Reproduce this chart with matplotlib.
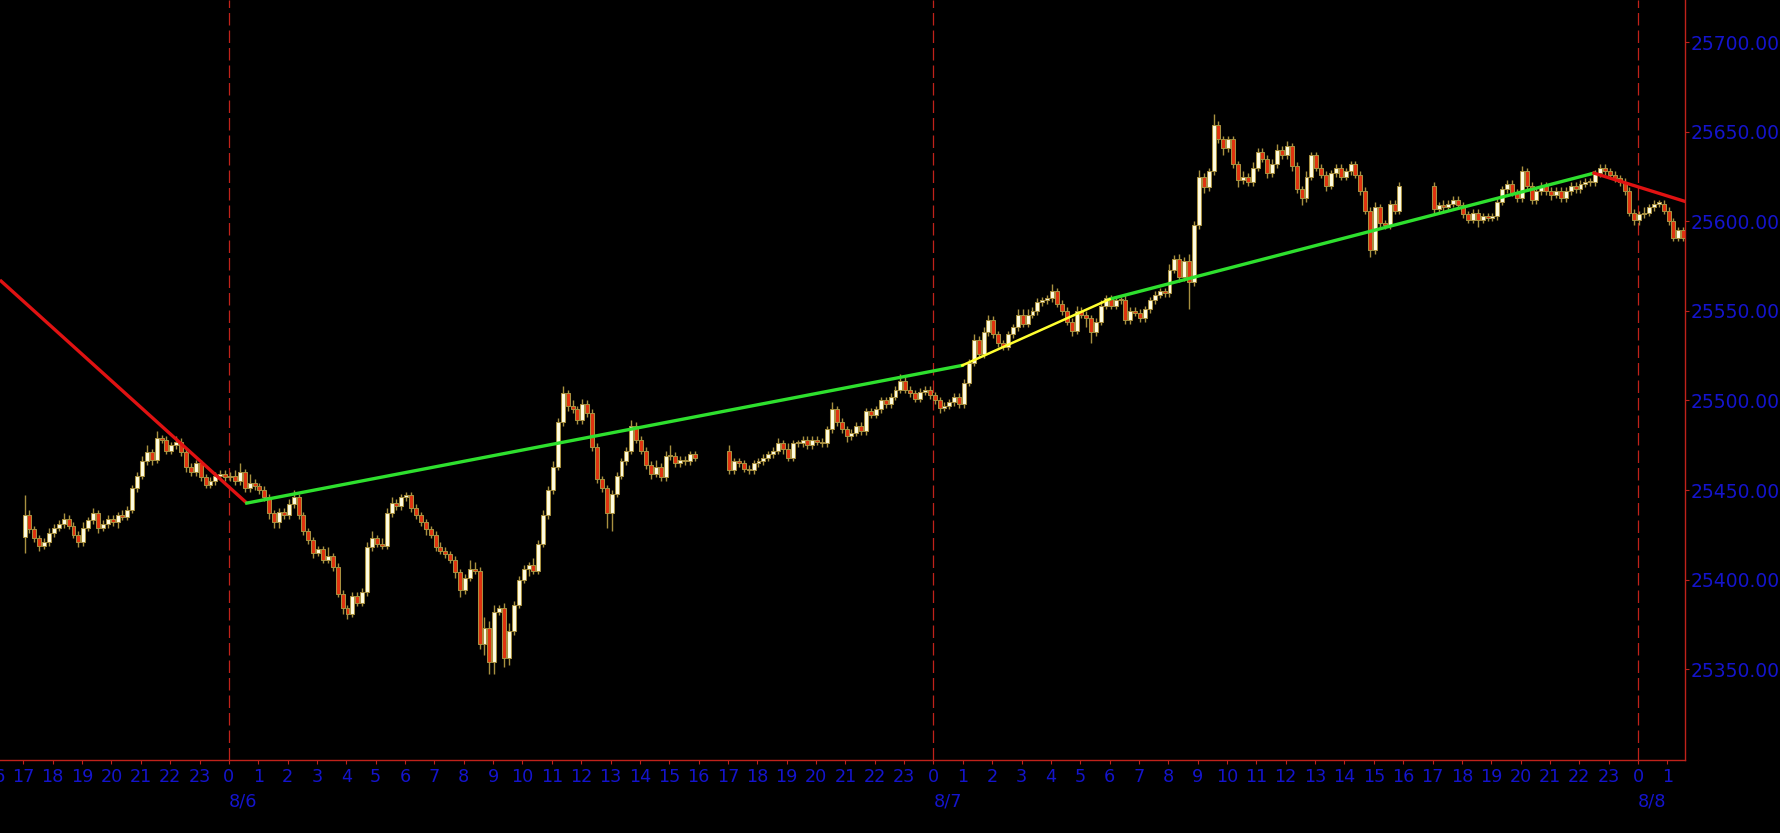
import matplotlib
matplotlib.use("Agg")
import matplotlib.pyplot as plt
import matplotlib.transforms as mtransforms
import numpy as np

BG = "black"
AXIS_RED = "#c0221a"
LABEL_BLUE = "#1414cc"
UP_FILL = "#fffde2"
DOWN_FILL = "#e0320f"
EDGE = "#a89040"

# time axis = hours counted from 8/6 00:00, one candle per 10 minutes
SESSION_START = [-7, 17, 41]          # 17:00 on 8/5, 8/6, 8/7
SESSION_OPEN = [25424, 25472, 25620]

# 8/5 17:00 -> 8/6 15:50
CLOSE_S1 = [
    25436, 25428, 25423, 25419, 25421, 25426,   # 17
    25429, 25431, 25434, 25430, 25425, 25421,   # 18
    25429, 25433, 25437, 25429, 25431, 25434,   # 19
    25432, 25436, 25435, 25439, 25451, 25458,   # 20
    25466, 25471, 25467, 25479, 25478, 25472,   # 21
    25475, 25477, 25471, 25463, 25460, 25465,   # 22
    25457, 25453, 25455, 25458, 25459, 25457,   # 23
    25458, 25455, 25460, 25451, 25454, 25452,   # 0
    25450, 25446, 25437, 25432, 25438, 25436,   # 1
    25442, 25446, 25436, 25427, 25422, 25415,   # 2
    25417, 25411, 25413, 25407, 25392, 25384,   # 3
    25381, 25391, 25387, 25393, 25418, 25423,   # 4
    25420, 25419, 25437, 25443, 25441, 25446,   # 5
    25447, 25440, 25436, 25432, 25428, 25425,   # 6
    25418, 25416, 25414, 25411, 25404, 25394,   # 7
    25401, 25406, 25405, 25364, 25373, 25354,   # 8
    25382, 25384, 25356, 25371, 25386, 25400,   # 9
    25406, 25408, 25405, 25420, 25436, 25450,   # 10
    25463, 25488, 25504, 25497, 25495, 25489,   # 11
    25498, 25493, 25474, 25456, 25451, 25437,   # 12
    25448, 25458, 25466, 25472, 25486, 25478,   # 13
    25472, 25464, 25459, 25463, 25457, 25469,   # 14
    25469, 25465, 25467, 25466, 25470, 25468,   # 15
]
WICK_HI_S1 = [
    11, 3, 2, 2, 2, 3,
    2, 2, 3, 2, 2, 2,
    3, 2, 3, 2, 2, 2,
    2, 2, 3, 2, 2, 2,
    3, 4, 2, 4, 2, 2,
    2, 3, 2, 2, 2, 2,
    2, 2, 2, 2, 2, 2,
    2, 3, 5, 2, 5, 2,
    2, 2, 2, 2, 2, 2,
    3, 4, 2, 2, 2, 2,
    2, 2, 5, 2, 2, 2,
    2, 2, 2, 2, 3, 4,
    2, 3, 3, 3, 2, 2,
    2, 2, 2, 2, 2, 2,
    2, 3, 2, 2, 2, 2,
    2, 5, 4, 2, 6, 4,
    4, 2, 3, 5, 2, 2,
    2, 2, 4, 2, 3, 2,
    3, 2, 4, 2, 3, 2,
    3, 2, 2, 2, 2, 2,
    2, 2, 2, 2, 3, 2,
    2, 2, 2, 4, 2, 3,
    6, 2, 2, 2, 2, 2,
]
WICK_LO_S1 = [
    9, 2, 2, 3, 2, 2,
    2, 2, 2, 2, 2, 3,
    2, 2, 2, 3, 2, 2,
    2, 3, 2, 2, 2, 2,
    2, 2, 3, 2, 2, 2,
    2, 2, 2, 3, 2, 2,
    2, 2, 2, 2, 2, 2,
    2, 2, 2, 2, 2, 2,
    2, 2, 3, 3, 3, 2,
    2, 2, 2, 2, 2, 3,
    2, 2, 2, 2, 2, 3,
    3, 2, 2, 2, 2, 2,
    2, 2, 2, 2, 2, 2,
    2, 2, 2, 2, 3, 2,
    2, 2, 2, 2, 3, 4,
    2, 2, 2, 3, 6, 7,
    7, 2, 5, 4, 2, 2,
    2, 4, 2, 2, 2, 2,
    2, 2, 2, 3, 2, 2,
    2, 2, 2, 2, 2, 8,
    10, 2, 2, 2, 2, 2,
    2, 2, 3, 2, 2, 2,
    2, 2, 2, 2, 2, 2,
]

# 8/6 17:00 -> 8/7 15:50
CLOSE_S2 = [
    25461, 25466, 25465, 25462, 25461, 25465,   # 17
    25466, 25468, 25470, 25472, 25476, 25473,   # 18
    25468, 25476, 25476, 25478, 25475, 25478,   # 19
    25477, 25476, 25484, 25495, 25488, 25484,   # 20
    25480, 25482, 25486, 25483, 25494, 25492,   # 21
    25495, 25500, 25498, 25502, 25506, 25511,   # 22
    25506, 25504, 25501, 25505, 25506, 25503,   # 23
    25500, 25496, 25497, 25499, 25502, 25498,   # 0
    25510, 25521, 25534, 25526, 25538, 25545,   # 1
    25537, 25532, 25530, 25537, 25541, 25548,   # 2
    25543, 25548, 25550, 25555, 25556, 25557,   # 3
    25561, 25554, 25550, 25544, 25539, 25550,   # 4
    25548, 25546, 25538, 25544, 25553, 25557,   # 5
    25553, 25556, 25556, 25545, 25550, 25549,   # 6
    25546, 25551, 25556, 25559, 25561, 25560,   # 7
    25573, 25579, 25569, 25578, 25566, 25598,   # 8
    25625, 25619, 25628, 25654, 25646, 25641,   # 9
    25646, 25632, 25623, 25625, 25622, 25630,   # 10
    25639, 25635, 25627, 25632, 25640, 25637,   # 11
    25642, 25631, 25618, 25613, 25625, 25637,   # 12
    25630, 25626, 25620, 25627, 25630, 25625,   # 13
    25628, 25632, 25626, 25617, 25606, 25584,   # 14
    25608, 25599, 25598, 25610, 25606, 25620,   # 15
]
WICK_HI_S2 = [
    3, 2, 2, 2, 2, 2,
    2, 2, 2, 2, 3, 2,
    3, 2, 2, 2, 2, 2,
    2, 2, 2, 4, 2, 2,
    2, 2, 2, 2, 2, 2,
    2, 2, 2, 2, 2, 4,
    2, 2, 2, 2, 2, 2,
    2, 2, 2, 2, 2, 2,
    2, 2, 3, 2, 3, 3,
    2, 2, 2, 2, 2, 3,
    3, 3, 2, 2, 2, 2,
    4, 2, 2, 2, 2, 3,
    2, 2, 2, 2, 3, 2,
    2, 2, 2, 3, 2, 2,
    2, 2, 2, 2, 2, 2,
    3, 2, 3, 2, 4, 2,
    4, 2, 2, 6, 2, 2,
    2, 2, 2, 3, 2, 3,
    2, 2, 2, 3, 3, 2,
    3, 2, 2, 2, 3, 2,
    2, 2, 2, 2, 2, 2,
    2, 2, 2, 2, 2, 2,
    3, 2, 2, 2, 2, 2,
]
WICK_LO_S2 = [
    2, 2, 2, 2, 2, 2,
    2, 2, 2, 2, 2, 3,
    2, 2, 2, 2, 2, 2,
    2, 2, 2, 2, 2, 2,
    3, 2, 2, 2, 2, 2,
    2, 2, 2, 2, 2, 2,
    2, 2, 2, 2, 2, 2,
    2, 3, 2, 2, 2, 2,
    2, 2, 2, 2, 2, 2,
    2, 2, 2, 2, 2, 2,
    2, 2, 2, 2, 2, 2,
    2, 2, 2, 2, 3, 2,
    2, 5, 6, 2, 2, 2,
    2, 2, 2, 2, 2, 2,
    2, 2, 2, 2, 2, 2,
    2, 2, 3, 2, 15, 2,
    2, 3, 2, 2, 2, 4,
    2, 2, 4, 2, 2, 2,
    2, 2, 3, 2, 2, 2,
    2, 3, 2, 4, 2, 2,
    2, 2, 3, 2, 2, 2,
    2, 2, 2, 2, 2, 4,
    2, 3, 2, 2, 2, 2,
]

# 8/7 17:00 -> 8/8 01:30
CLOSE_S3 = [
    25607, 25609, 25608, 25610, 25612, 25609,   # 17
    25604, 25601, 25605, 25601, 25603, 25602,   # 18
    25603, 25611, 25618, 25621, 25616, 25613,   # 19
    25628, 25620, 25612, 25617, 25620, 25617,   # 20
    25615, 25617, 25613, 25617, 25620, 25618,   # 21
    25621, 25622, 25622, 25627, 25630, 25628,   # 22
    25626, 25624, 25622, 25617, 25605, 25601,   # 23
    25604, 25605, 25608, 25610, 25610, 25606,   # 0
    25600, 25591, 25595, 25591,                 # 1
]
WICK_HI_S3 = [
    2, 2, 3, 2, 2, 2,
    2, 2, 2, 2, 2, 2,
    2, 2, 2, 2, 2, 2,
    3, 2, 2, 2, 2, 2,
    2, 2, 2, 2, 2, 2,
    2, 2, 2, 2, 2, 2,
    2, 2, 2, 2, 2, 2,
    2, 3, 2, 2, 2, 2,
    2, 2, 2, 2,
]
WICK_LO_S3 = [
    2, 2, 2, 2, 2, 2,
    2, 2, 2, 4, 2, 2,
    2, 2, 2, 2, 2, 2,
    2, 2, 2, 2, 2, 2,
    3, 2, 2, 2, 2, 2,
    2, 2, 2, 2, 2, 2,
    2, 2, 2, 2, 2, 3,
    3, 2, 2, 2, 2, 2,
    2, 2, 2, 2,
]

# hand-drawn trend lines (hour, price)
RED_A_H, RED_A_P = [-7.8, 0.61], [25567.3, 25442.7]
GREEN_A_H, GREEN_A_P = [0.61, 24.98], [25442.7, 25519.6]
YELLOW_H, YELLOW_P = [24.98, 30.0], [25519.6, 25556.6]
GREEN_B_H, GREEN_B_P = [30.0, 46.5], [25556.6, 25627.0]
RED_B_H, RED_B_P = [46.5, 49.6], [25627.0, 25611.2]

HOUR_TICKS = list(range(-8, 50))
HOUR_LABELS = ("16 17 18 19 20 21 22 23 0 1 2 3 4 5 6 7 8 9 10 11 12 13 14 15 "
               "16 17 18 19 20 21 22 23 0 1 2 3 4 5 6 7 8 9 10 11 12 13 14 15 "
               "16 17 18 19 20 21 22 23 0 1").split()
DAY_HOURS = [0, 24, 48]
DAY_LABELS = ["8/6", "8/7", "8/8"]
PRICE_TICKS = [25350, 25400, 25450, 25500, 25550, 25600, 25650, 25700]


def candles():
    hrs, op, cl, hi, lo = [], [], [], [], []
    sessions = [(CLOSE_S1, WICK_HI_S1, WICK_LO_S1),
                (CLOSE_S2, WICK_HI_S2, WICK_LO_S2),
                (CLOSE_S3, WICK_HI_S3, WICK_LO_S3)]
    for start, first, (c, wh, wl) in zip(SESSION_START, SESSION_OPEN, sessions):
        c = np.array(c, dtype=float)
        o = np.r_[first, c[:-1]]                 # open = previous close
        hrs.append(start + np.arange(len(c)) / 6)
        op.append(o)
        cl.append(c)
        hi.append(np.maximum(o, c) + np.array(wh))
        lo.append(np.minimum(o, c) - np.array(wl))
    return [np.concatenate(a) for a in (hrs, op, cl, hi, lo)]


def main():
    fig = plt.figure(figsize=(17.8, 8.33), dpi=100, facecolor=BG)
    ax = fig.add_axes([0, 1 - 760 / 833, 1685 / 1780, 760 / 833])
    ax.set_facecolor(BG)

    x, o, c, h, l = candles()
    x = x + 0.04
    up = c >= o
    ax.vlines(x, l, h, color=EDGE, lw=1.0, zorder=2)
    ax.bar(x, np.maximum(np.abs(c - o), 0.7), bottom=np.minimum(o, c), width=0.135,
           color=np.where(up, UP_FILL, DOWN_FILL), edgecolor=EDGE, linewidth=0.75, zorder=3)

    for d in DAY_HOURS:
        ax.axvline(d, color=AXIS_RED, lw=0.9, dashes=(10, 4), zorder=1)

    ax.plot(RED_A_H, RED_A_P, color="#e01212", lw=2.4, zorder=4, solid_capstyle="butt")
    ax.plot(GREEN_A_H, GREEN_A_P, color="#2ee02e", lw=2.4, zorder=4)
    ax.plot(GREEN_B_H, GREEN_B_P, color="#2ee02e", lw=2.4, zorder=4)
    ax.plot(YELLOW_H, YELLOW_P, color="#ffff30", lw=1.8, zorder=5)
    ax.plot(RED_B_H, RED_B_P, color="#e01212", lw=2.4, zorder=4)

    ax.set_xlim(-7.797, 49.6)
    ax.set_ylim(25299.2, 25723.7)

    for s in ("left", "top"):
        ax.spines[s].set_visible(False)
    for s in ("bottom", "right"):
        ax.spines[s].set_color(AXIS_RED)
        ax.spines[s].set_linewidth(1.0)

    ax.set_xticks(HOUR_TICKS[1:], HOUR_LABELS[1:])
    ax.tick_params(axis="x", colors=AXIS_RED, labelcolor=LABEL_BLUE, length=3,
                   width=0.8, pad=3, labelsize=12.7)
    ax.yaxis.tick_right()
    ax.set_yticks(PRICE_TICKS, [f"{p:.3f}" for p in PRICE_TICKS])
    ax.tick_params(axis="y", colors=AXIS_RED, labelcolor=LABEL_BLUE, length=3,
                   width=0.8, pad=1, labelsize=13.5)

    # the "16" label of 8/5 sits just off the left edge
    base = mtransforms.blended_transform_factory(ax.transData, ax.transAxes)
    lab = mtransforms.offset_copy(base, fig=fig, y=-6, units="points")
    ax.text(HOUR_TICKS[0], 0, HOUR_LABELS[0], transform=lab, ha="center", va="top",
            color=LABEL_BLUE, fontsize=12.7, clip_on=False)
    day = mtransforms.offset_copy(base, fig=fig, y=-23.5, units="points")
    for d, t in zip(DAY_HOURS, DAY_LABELS):
        ax.text(d, 0, t, transform=day, ha="left", va="top", color=LABEL_BLUE,
                fontsize=12.7, clip_on=False)

    fig.savefig("out.png", dpi=100, facecolor=BG)


if __name__ == "__main__":
    main()
